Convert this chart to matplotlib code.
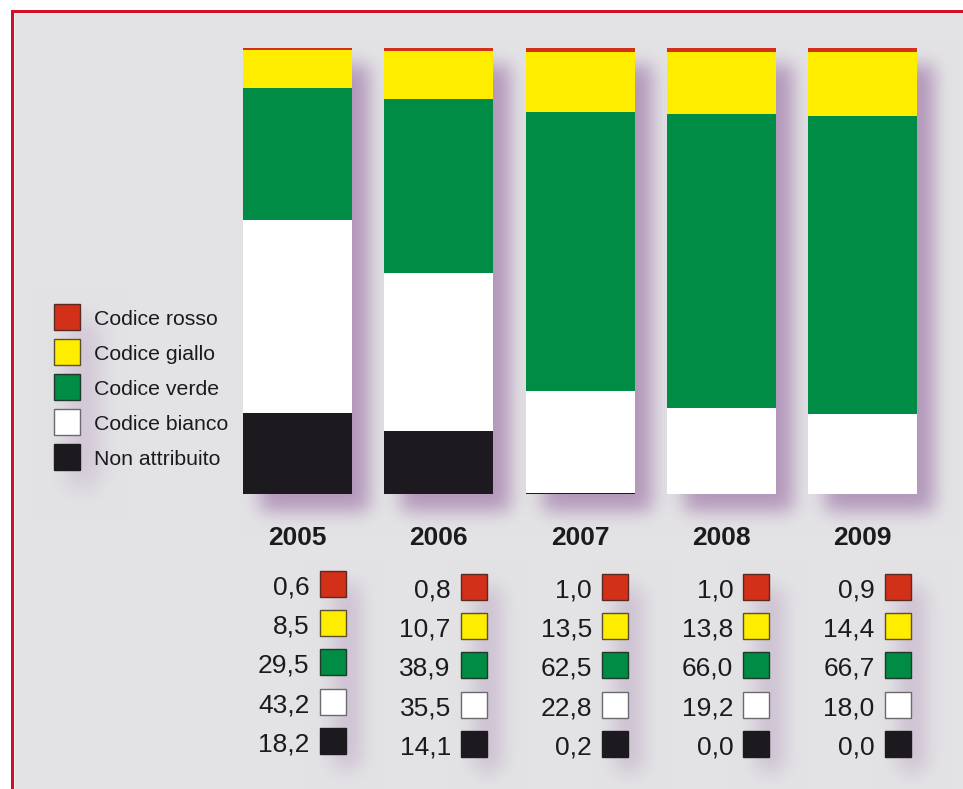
import numpy as np
import matplotlib.pyplot as plt
from matplotlib.patches import Rectangle

years = ['2005', '2006', '2007', '2008', '2009']
categories = ['Codice rosso', 'Codice giallo', 'Codice verde', 'Codice bianco', 'Non attribuito']
rosso = [0.6, 0.8, 1.0, 1.0, 0.9]
giallo = [8.5, 10.7, 13.5, 13.8, 14.4]
verde = [29.5, 38.9, 62.5, 66.0, 66.7]
bianco = [43.2, 35.5, 22.8, 19.2, 18.0]
non_attr = [18.2, 14.1, 0.2, 0.0, 0.0]

colors = ['#d3301a', '#ffed00', '#008c44', '#ffffff', '#1c1a1f']
edges = ['#5a2a22', '#5a5030', '#1f3a2a', '#6a6a70', '#1c1a1f']
txt = '#1c1a1f'

plt.rcParams['font.family'] = ['Liberation Sans', 'DejaVu Sans']

W, H = 963, 789
fig = plt.figure(figsize=(W / 100, H / 100), dpi=100)

bg = fig.add_axes([0, 0, 1, 1], zorder=0)
bg.set_xlim(0, W)
bg.set_ylim(H, 0)
bg.axis('off')

# bars
ax = fig.add_axes([226.9 / W, (H - 494) / H, 706.25 / W, 446.5 / H], zorder=2)
ax.patch.set_alpha(0)
ax.set_xlim(-0.5, 4.5)
ax.set_ylim(0, 100)
ax.axis('off')

x = np.arange(len(years))
bw = 0.772
bottom = np.zeros(len(years))
for vals, c in zip([non_attr, bianco, verde, giallo, rosso], colors[::-1]):
    ax.bar(x, vals, bottom=bottom, width=bw, color=c, linewidth=0)
    bottom += np.array(vals)


def to_px(tr, px, py):
    dx, dy = tr.transform((px, py))
    return dx, H - dy


def blur(m, s):
    r = int(3 * s)
    k = np.exp(-0.5 * (np.arange(-r, r + 1) / s) ** 2)
    k /= k.sum()
    m = np.apply_along_axis(lambda v: np.convolve(v, k, mode='same'), 0, m)
    m = np.apply_along_axis(lambda v: np.convolve(v, k, mode='same'), 1, m)
    return m


def rect_mask(x0, y0, x1, y1):
    m = np.zeros((H, W))
    m[int(round(y0)):int(round(y1)), int(round(x0)):int(round(x1))] = 1.0
    return m


alpha = np.zeros((H, W))


def add_shadow(m, s, amax, off=16):
    global alpha
    m = np.roll(np.roll(m, off, axis=0), off, axis=1)
    a = np.clip(blur(m, s), 0, 1) * amax
    alpha = 1 - (1 - alpha) * (1 - a)


# bar shadows
bar_mask = np.zeros((H, W))
centers = []
for i in range(len(years)):
    l, t = to_px(ax.transData, i - bw / 2, bottom[i])
    r, b = to_px(ax.transData, i + bw / 2, 0)
    bar_mask = np.maximum(bar_mask, rect_mask(l, t, r, b))
    centers.append((l + r) / 2)
add_shadow(bar_mask, 9, 0.68, off=17)

# value squares layout
sq = 26
row_top = 574
row_step = 39.2
col_dy = [-3, 0, 0, 0, 0]
sq_mask = np.zeros((H, W))
for i, cx in enumerate(centers):
    x0 = cx + 22
    y0 = row_top + col_dy[i]
    sq_mask = np.maximum(sq_mask, rect_mask(x0, y0, x0 + sq, y0 + 4 * row_step + sq))
add_shadow(sq_mask, 10, 0.33, off=14)

# legend layout
lg_x, lg_y, lg_step = 54, 304, 35
add_shadow(rect_mask(lg_x, lg_y, lg_x + sq, lg_y + 4 * lg_step + sq), 13, 0.33)

base = np.array([227, 227, 229]) / 255.0
shcol = np.array([157, 115, 167]) / 255.0
img = base[None, None, :] * (1 - alpha[..., None]) + shcol[None, None, :] * alpha[..., None]
bg.imshow(img, extent=(0, W, H, 0), aspect='auto', interpolation='bilinear', zorder=0)

# frame
bg.add_patch(Rectangle((0, 0), W, 10, color='white', lw=0, zorder=5))
bg.add_patch(Rectangle((0, 0), 11, H, color='white', lw=0, zorder=5))
bg.add_patch(Rectangle((11, 10), W, 2.8, color='#cf1128', lw=0, zorder=6))
bg.add_patch(Rectangle((11, 10), 2.5, H, color='#cf1128', lw=0, zorder=6))
bg.add_patch(Rectangle((13.5, 12.8), W, 1.2, color='#f2eef0', lw=0, zorder=6))
bg.add_patch(Rectangle((13.5, 12.8), 1.3, H, color='#f2eef0', lw=0, zorder=6))

# legend
for k, (lab, c, e) in enumerate(zip(categories, colors, edges)):
    y0 = lg_y + k * lg_step
    bg.add_patch(Rectangle((lg_x, y0), sq, sq, facecolor=c, edgecolor=e, lw=1.0, zorder=3))
    bg.text(lg_x + 40, y0 + sq / 2 + 8, lab, fontsize=15.3, color=txt, ha='left', va='baseline', zorder=3)

# years and values
series = [rosso, giallo, verde, bianco, non_attr]
for i, cx in enumerate(centers):
    bg.text(cx, 545, years[i], fontsize=19, fontweight='bold', color=txt,
            ha='center', va='baseline', zorder=3)
    x0 = cx + 22
    for k, (vals, c, e) in enumerate(zip(series, colors, edges)):
        y0 = row_top + col_dy[i] + k * row_step
        bg.add_patch(Rectangle((x0, y0), sq, sq, facecolor=c, edgecolor=e, lw=1.0, zorder=3))
        bg.text(x0 - 10, y0 + sq / 2 + 10.5, f'{vals[i]:.1f}'.replace('.', ','),
                fontsize=19, color=txt, ha='right', va='baseline', zorder=3)

fig.savefig('out.png', dpi=100)
